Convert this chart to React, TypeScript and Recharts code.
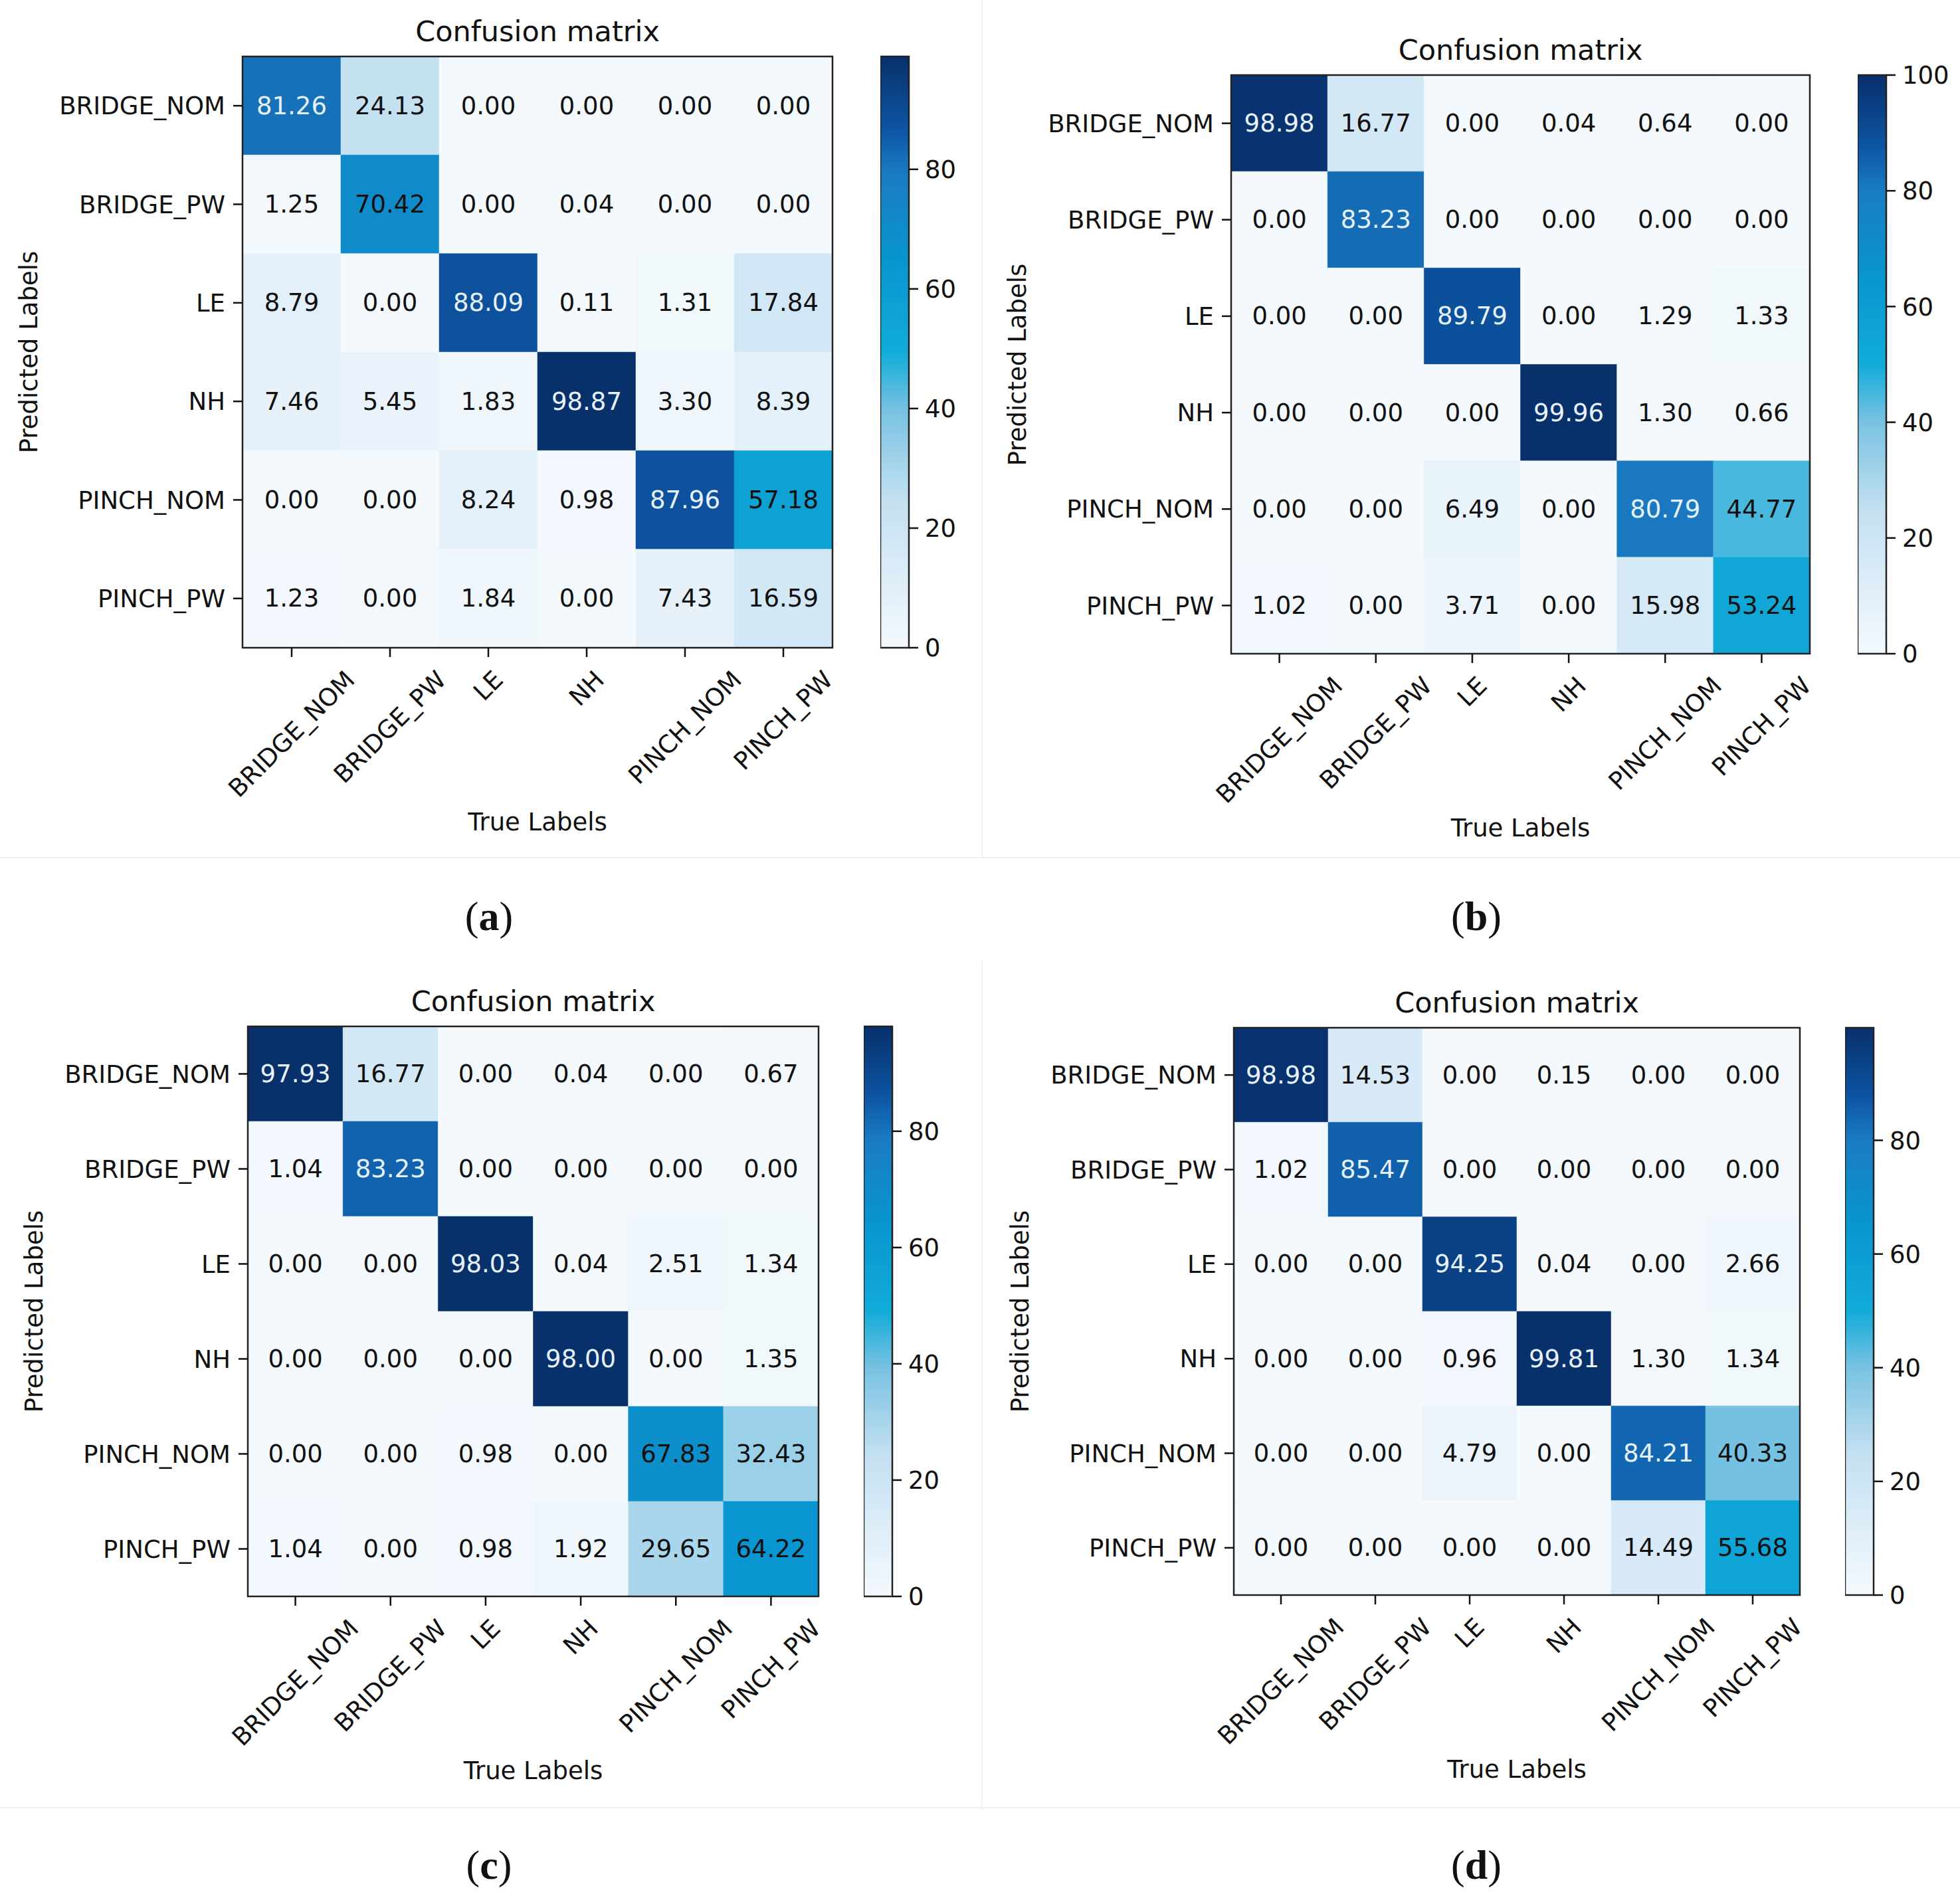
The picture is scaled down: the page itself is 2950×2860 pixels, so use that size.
import React from 'react';
import { ScatterChart, Scatter, XAxis, YAxis, ReferenceArea } from 'recharts';

// class names (rows = predicted, cols = true)
const classLabels = ['BRIDGE_NOM', 'BRIDGE_PW', 'LE', 'NH', 'PINCH_NOM', 'PINCH_PW'];
const classIndex = [0, 1, 2, 3, 4, 5];

const matrixA = [
  [81.26, 24.13, 0.0, 0.0, 0.0, 0.0],
  [1.25, 70.42, 0.0, 0.04, 0.0, 0.0],
  [8.79, 0.0, 88.09, 0.11, 1.31, 17.84],
  [7.46, 5.45, 1.83, 98.87, 3.3, 8.39],
  [0.0, 0.0, 8.24, 0.98, 87.96, 57.18],
  [1.23, 0.0, 1.84, 0.0, 7.43, 16.59],
];
const matrixB = [
  [98.98, 16.77, 0.0, 0.04, 0.64, 0.0],
  [0.0, 83.23, 0.0, 0.0, 0.0, 0.0],
  [0.0, 0.0, 89.79, 0.0, 1.29, 1.33],
  [0.0, 0.0, 0.0, 99.96, 1.3, 0.66],
  [0.0, 0.0, 6.49, 0.0, 80.79, 44.77],
  [1.02, 0.0, 3.71, 0.0, 15.98, 53.24],
];
const matrixC = [
  [97.93, 16.77, 0.0, 0.04, 0.0, 0.67],
  [1.04, 83.23, 0.0, 0.0, 0.0, 0.0],
  [0.0, 0.0, 98.03, 0.04, 2.51, 1.34],
  [0.0, 0.0, 0.0, 98.0, 0.0, 1.35],
  [0.0, 0.0, 0.98, 0.0, 67.83, 32.43],
  [1.04, 0.0, 0.98, 1.92, 29.65, 64.22],
];
const matrixD = [
  [98.98, 14.53, 0.0, 0.15, 0.0, 0.0],
  [1.02, 85.47, 0.0, 0.0, 0.0, 0.0],
  [0.0, 0.0, 94.25, 0.04, 0.0, 2.66],
  [0.0, 0.0, 0.96, 99.81, 1.3, 1.34],
  [0.0, 0.0, 4.79, 0.0, 84.21, 40.33],
  [0.0, 0.0, 0.0, 0.0, 14.49, 55.68],
];

const panelTags = ['a', 'b', 'c', 'd'];
const colorMax = [98.87, 100, 98.03, 99.81];
const barTicksShort = [0, 20, 40, 60, 80];
const barTicksFull = [0, 20, 40, 60, 80, 100];

const chartTitle = 'Confusion matrix';
const xTitle = 'True Labels';
const yTitle = 'Predicted Labels';

// Blues-like colormap used in the figure
const COLOR_STOPS: [number, string][] = [
  [0, '#f4f9fd'],
  [0.1, '#e1eff9'],
  [0.25, '#c3e0f1'],
  [0.4, '#79c2e2'],
  [0.5, '#12acd9'],
  [0.65, '#0896cf'],
  [0.8, '#1a7cc2'],
  [0.88, '#0d54a2'],
  [1, '#08306b'],
];

const hex = (s: string) => [1, 3, 5].map((i) => parseInt(s.slice(i, i + 2), 16));
function cmap(t: number) {
  t = Math.max(0, Math.min(1, t));
  for (let i = 1; i < COLOR_STOPS.length; i++) {
    const [t1, c1] = COLOR_STOPS[i];
    if (t <= t1) {
      const [t0, c0] = COLOR_STOPS[i - 1];
      const f = (t - t0) / (t1 - t0);
      const a = hex(c0), b = hex(c1);
      return `rgb(${a.map((v, k) => Math.round(v + (b[k] - v) * f)).join(',')})`;
    }
  }
  return COLOR_STOPS[COLOR_STOPS.length - 1][1];
}

const FONT = '"DejaVu Sans", sans-serif';
const FS = 37;

let measureCtx: CanvasRenderingContext2D | null = null;
function textWidth(s: string) {
  if (!measureCtx) measureCtx = document.createElement('canvas').getContext('2d');
  if (!measureCtx) return s.length * FS * 0.68;
  measureCtx.font = `${FS}px "DejaVu Sans"`;
  return measureCtx.measureText(s).width;
}

// rotated tick label, bbox centred under the tick (matplotlib rotation=45)
const XTick = (props: any) => {
  const { x, y, payload } = props;
  const label = classLabels[payload.value];
  const half = ((textWidth(label) + FS * 1.05) * Math.SQRT1_2) / 2;
  const cy = y + half;
  return (
    <text
      x={x}
      y={cy}
      transform={`rotate(-45 ${x} ${cy})`}
      textAnchor="middle"
      dominantBaseline="central"
      fontSize={FS}
      fontFamily={FONT}
      fill="#111"
    >
      {label}
    </text>
  );
};

const layout = [
  { box: { l: 365, t: 85, r: 1253, b: 975 }, bar: { l: 1325, r: 1368 }, cap: { x: 736, y: 1379 } },
  { box: { l: 1853, t: 113, r: 2724, b: 984 }, bar: { l: 2796, r: 2839 }, cap: { x: 2222, y: 1379 } },
  { box: { l: 373, t: 1545, r: 1232, b: 2403 }, bar: { l: 1300, r: 1343 }, cap: { x: 736, y: 2807 } },
  { box: { l: 1857, t: 1547, r: 2709, b: 2401 }, bar: { l: 2777, r: 2820 }, cap: { x: 2222, y: 2807 } },
];
const matrices = [matrixA, matrixB, matrixC, matrixD];

function Panel({ idx }: { idx: number }) {
  const { box, bar, cap } = layout[idx];
  const matrix = matrices[idx];
  const vmax = colorMax[idx];
  const tag = panelTags[idx];
  const barTicks = vmax >= 100 ? barTicksFull : barTicksShort;
  const W = box.r - box.l;
  const H = box.b - box.t;
  const padL = 400;
  const padB = 320;
  const padT = 20;
  const barPad = 40;
  const cells = matrix.flatMap((row, r) => row.map((v, c) => ({ x: c, y: r, v })));
  const barEnds = [
    { x: 0, y: 0 },
    { x: 1, y: vmax },
  ];
  const cx = (box.l + box.r) / 2;
  const gradId = `cbar-${tag}`;

  return (
    <>
      <div style={{ position: 'absolute', left: box.l - padL, top: box.t - padT }}>
        <ScatterChart
          width={W + padL + 20}
          height={H + padB + padT}
          margin={{ top: padT, right: 20, bottom: 0, left: 0 }}
        >
          <XAxis
            type="number"
            dataKey="x"
            domain={[-0.5, 5.5]}
            ticks={classIndex}
            interval={0}
            allowDataOverflow
            height={padB}
            axisLine={false}
            tickLine={{ stroke: '#111', strokeWidth: 2.5 }}
            tickSize={14}
            tickMargin={14}
            tick={(p: any) => <XTick {...p} />}
          />
          <YAxis
            type="number"
            dataKey="y"
            domain={[-0.5, 5.5]}
            reversed
            ticks={classIndex}
            interval={0}
            allowDataOverflow
            width={padL}
            axisLine={false}
            tickLine={{ stroke: '#111', strokeWidth: 2.5 }}
            tickSize={14}
            tickMargin={12}
            tick={{ fill: '#111', fontSize: FS, fontFamily: FONT }}
            tickFormatter={(i: number) => classLabels[i]}
          />
          {cells.map((cell) => (
            <ReferenceArea
              key={`${cell.x}-${cell.y}`}
              x1={cell.x - 0.5}
              x2={cell.x + 0.5}
              y1={cell.y - 0.5}
              y2={cell.y + 0.5}
              fill={cmap(cell.v / vmax)}
              fillOpacity={1}
              stroke={cmap(cell.v / vmax)}
              strokeWidth={0.5}
              ifOverflow="visible"
            />
          ))}
          <ReferenceArea
            x1={-0.5}
            x2={5.5}
            y1={-0.5}
            y2={5.5}
            fill="none"
            fillOpacity={0}
            stroke="#222"
            strokeWidth={2.5}
            ifOverflow="visible"
          />
          <Scatter
            data={cells}
            isAnimationActive={false}
            shape={(p: any) => (
              <text
                x={p.cx}
                y={p.cy}
                textAnchor="middle"
                dominantBaseline="central"
                fontSize={FS}
                fontFamily={FONT}
                fill={p.payload.v > vmax * 0.75 ? '#e6f2fb' : '#111'}
              >
                {p.payload.v.toFixed(2)}
              </text>
            )}
          />
        </ScatterChart>
      </div>

      <div style={{ position: 'absolute', left: bar.l, top: box.t - barPad }}>
        <ScatterChart
          width={bar.r - bar.l + 180}
          height={H + barPad * 2}
          margin={{ top: barPad, right: 0, bottom: barPad, left: 0 }}
        >
          <defs>
            <linearGradient id={gradId} x1="0" y1="1" x2="0" y2="0">
              {COLOR_STOPS.map(([t, c]) => (
                <stop key={t} offset={t} stopColor={c} />
              ))}
            </linearGradient>
          </defs>
          <XAxis type="number" dataKey="x" domain={[0, 1]} allowDataOverflow hide height={0} />
          <YAxis
            type="number"
            dataKey="y"
            orientation="right"
            domain={[0, vmax]}
            ticks={barTicks}
            interval={0}
            allowDataOverflow
            width={180}
            axisLine={false}
            tickLine={{ stroke: '#111', strokeWidth: 2.5 }}
            tickSize={14}
            tickMargin={10}
            tick={{ fill: '#111', fontSize: FS, fontFamily: FONT, textAnchor: 'start' }}
          />
          <ReferenceArea
            x1={0}
            x2={1}
            y1={0}
            y2={vmax}
            fill={`url(#${gradId})`}
            fillOpacity={1}
            stroke="#222"
            strokeWidth={2.5}
            ifOverflow="visible"
          />
          <Scatter data={barEnds} isAnimationActive={false} shape={() => <g />} />
        </ScatterChart>
      </div>

      <div style={{ ...labelStyle, fontSize: 43, left: cx, top: box.t - 38, transform: 'translate(-50%, -50%)' }}>
        {chartTitle}
      </div>
      <div style={{ ...labelStyle, left: cx, top: box.b + 262, transform: 'translate(-50%, -50%)' }}>{xTitle}</div>
      <div
        style={{
          ...labelStyle,
          left: box.l - 322,
          top: (box.t + box.b) / 2,
          transform: 'translate(-50%, -50%) rotate(-90deg)',
        }}
      >
        {yTitle}
      </div>
      <div
        style={{
          position: 'absolute',
          left: cap.x,
          top: cap.y,
          transform: 'translate(-50%, -50%)',
          fontFamily: '"Liberation Serif", serif',
          fontSize: 62,
          lineHeight: 1,
          color: '#111',
          whiteSpace: 'nowrap',
        }}
      >
        (<b>{tag}</b>)
      </div>
    </>
  );
}

const labelStyle: React.CSSProperties = {
  position: 'absolute',
  fontFamily: FONT,
  fontSize: FS,
  lineHeight: 1,
  color: '#111',
  whiteSpace: 'nowrap',
};

export default function App() {
  return (
    <div style={{ position: 'absolute', left: 0, top: 0, width: 2950, height: 2860, background: '#fff', overflow: 'hidden' }}>
      {/* faint frames of the original sub-figures */}
      <div style={{ position: 'absolute', left: 1477, top: 0, width: 2, height: 1290, background: '#f1f1f1' }} />
      <div style={{ position: 'absolute', left: 0, top: 1290, width: 2950, height: 2, background: '#f1f1f1' }} />
      <div style={{ position: 'absolute', left: 1477, top: 1445, width: 2, height: 1280, background: '#f1f1f1' }} />
      <div style={{ position: 'absolute', left: 0, top: 2720, width: 2950, height: 2, background: '#f1f1f1' }} />
      {panelTags.map((t, i) => (
        <Panel key={t} idx={i} />
      ))}
    </div>
  );
}
